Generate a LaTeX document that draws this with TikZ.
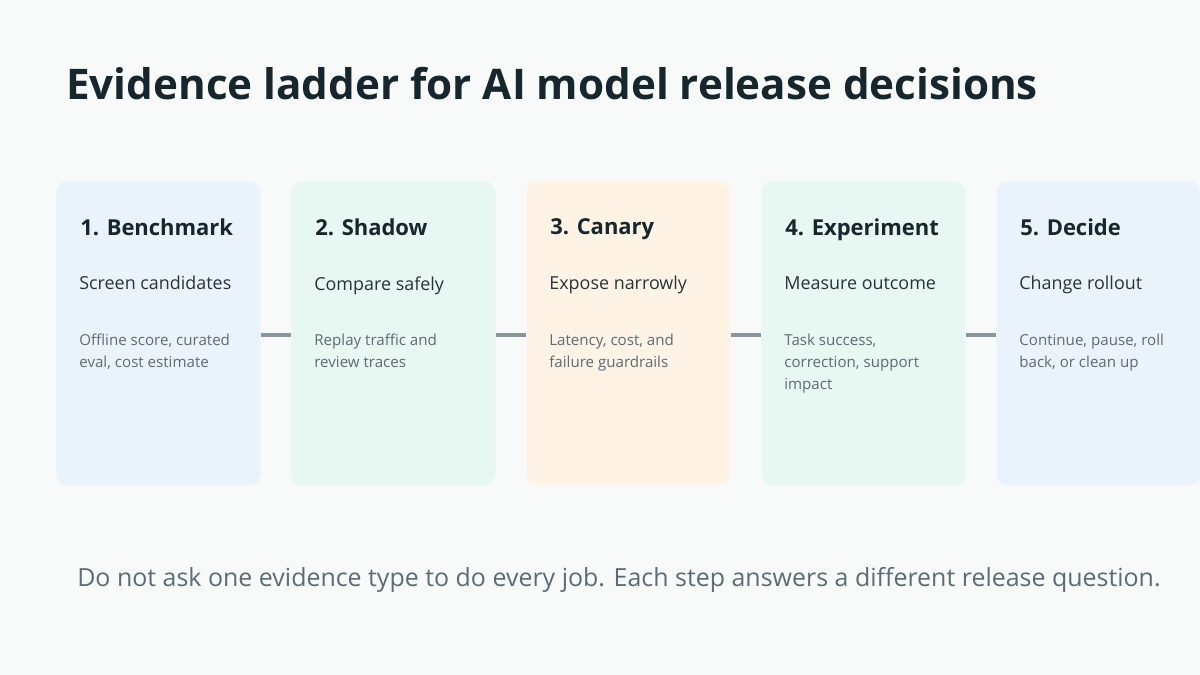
\documentclass[tikz,border=0pt]{standalone}
\usepackage{fontspec}
\setmainfont{Open Sans}
\definecolor{pagebg}{HTML}{F8FAFA}
\definecolor{inkdark}{HTML}{17262C}
\definecolor{inkmid}{HTML}{24343B}
\definecolor{inksoft}{HTML}{5C6B74}
\definecolor{linkgray}{HTML}{8A949B}
\definecolor{fillblue}{HTML}{EAF3FC}
\definecolor{fillgreen}{HTML}{E7F7F1}
\definecolor{fillorange}{HTML}{FFF3E6}
\begin{document}
\begin{tikzpicture}[x=0.02cm, y=-0.02cm,
    stepcard/.style={rounded corners=6pt, draw=none, minimum width=4.08cm, minimum height=6.08cm, anchor=north west, inner sep=0pt},
    headtext/.style={anchor=north west, font=\fontsize{12.5}{15}\selectfont\bfseries, text=inkdark, inner sep=0pt},
    subtext/.style={anchor=north west, font=\fontsize{10.2}{12}\selectfont, text=inkmid, inner sep=0pt},
    notetext/.style={anchor=north west, font=\fontsize{8.6}{12.4}\selectfont, text=inksoft, inner sep=0pt, align=left},
    link/.style={draw=linkgray, line width=2.2pt}
  ]
  % Sfondo
  \fill[pagebg] (0,0) rectangle (1200,675);
  \useasboundingbox (0,0) rectangle (1200,675);

  % Titolo
  \node[anchor=west, font=\fontsize{24}{28}\selectfont\bfseries, text=inkdark, inner sep=0pt] (title) at (66,84) {Evidence ladder for AI model release decisions};

  % Schede
  \foreach \i/\xx/\col/\head/\sub/\note in {
      1/56/fillblue/{1. Benchmark}/{Screen candidates}/{Offline score, curated\\eval, cost estimate},
      2/291/fillgreen/{2. Shadow}/{Compare safely}/{Replay traffic and\\review traces},
      3/526/fillorange/{3. Canary}/{Expose narrowly}/{Latency, cost, and\\failure guardrails},
      4/761/fillgreen/{4. Experiment}/{Measure outcome}/{Task success,\\correction, support\\impact},
      5/996/fillblue/{5. Decide}/{Change rollout}/{Continue, pause, roll\\back, or clean up}}{
    \node[stepcard, fill=\col] (card\i) at (\xx,181) {};
    \node[headtext] (head\i) at (\xx+24,218) {\head};
    \node[subtext] (sub\i) at (\xx+23,276) {\sub};
    \node[notetext] (note\i) at (\xx+23,334) {\note};
  }

  % Collegamenti
  \foreach \a/\b in {1/2,2/3,3/4,4/5}
    \draw[link] (card\a.east |- 0,335) -- (card\b.west |- 0,335);

  % Nota sotto
  \node[font=\fontsize{14.2}{17}\selectfont, text=inksoft, inner sep=0pt] (footer) at (619,580) {Do not ask one evidence type to do every job. Each step answers a different release question.};
\end{tikzpicture}
\end{document}
